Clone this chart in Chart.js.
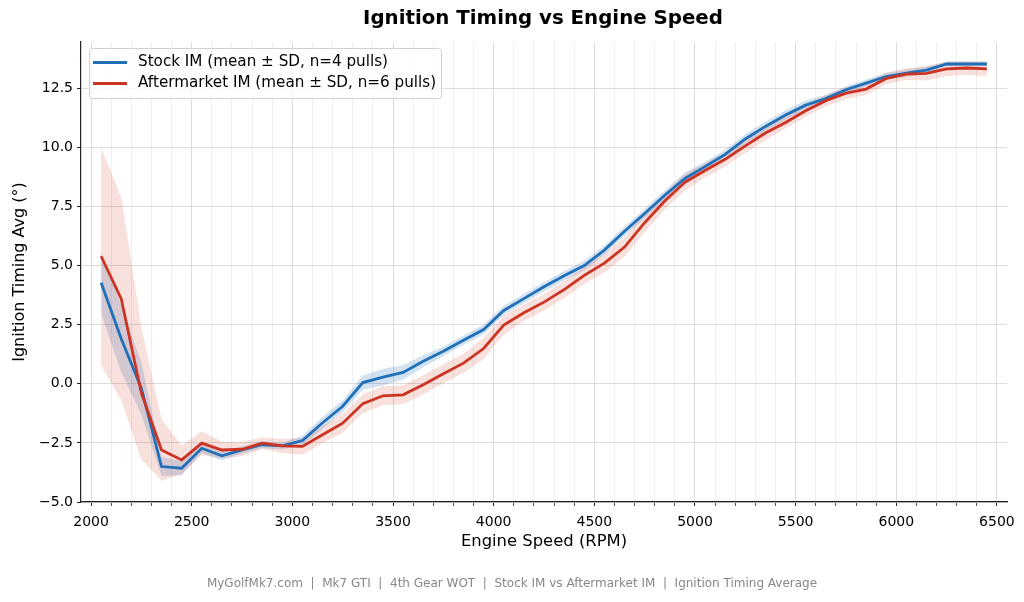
<!DOCTYPE html>
<html>
<head>
<meta charset="utf-8">
<script src="https://cdn.jsdelivr.net/npm/chart.js@4.4.0/dist/chart.umd.min.js"></script>
<style>
  html, body { margin: 0; padding: 0; background: #fff; }
  #wrap { width: 1024px; height: 602px; }
</style>
</head>
<body>
<div id="wrap"><canvas id="myChart"></canvas></div>
<script>
// engine speed bins (RPM)
const rpm = [2050, 2150, 2250, 2350, 2450, 2550, 2650, 2750, 2850, 2950,
             3050, 3150, 3250, 3350, 3450, 3550, 3650, 3750, 3850, 3950,
             4050, 4150, 4250, 4350, 4450, 4550, 4650, 4750, 4850, 4950,
             5050, 5150, 5250, 5350, 5450, 5550, 5650, 5750, 5850, 5950,
             6050, 6150, 6250, 6350, 6450];

// Stock IM, mean and SD (deg)
const stockMean = [4.27, 1.9, -0.2, -3.5, -3.57, -2.73, -3.05, -2.8, -2.58, -2.63,
                   -2.4, -1.65, -0.95, 0.05, 0.28, 0.48, 0.95, 1.37, 1.84, 2.29,
                   3.1, 3.6, 4.1, 4.57, 5.0, 5.65, 6.45, 7.2, 7.97, 8.68,
                   9.18, 9.7, 10.35, 10.88, 11.36, 11.78, 12.06, 12.43, 12.71, 12.99,
                   13.13, 13.26, 13.52, 13.52, 13.52];
const stockSd = [1.3, 1.4, 1.1, 0.4, 0.3, 0.2, 0.2, 0.15, 0.15, 0.15,
                 0.2, 0.25, 0.25, 0.3, 0.35, 0.3, 0.25, 0.2, 0.2, 0.2,
                 0.2, 0.2, 0.2, 0.2, 0.2, 0.2, 0.2, 0.2, 0.2, 0.25,
                 0.2, 0.2, 0.2, 0.2, 0.2, 0.2, 0.15, 0.15, 0.15, 0.15,
                 0.15, 0.15, 0.1, 0.1, 0.1];

// Aftermarket IM, mean and SD (deg)
const afterMean = [5.39, 3.59, -0.4, -2.8, -3.22, -2.51, -2.8, -2.77, -2.51, -2.63,
                   -2.65, -2.16, -1.67, -0.84, -0.51, -0.47, -0.04, 0.42, 0.87, 1.49,
                   2.48, 3.0, 3.45, 3.98, 4.58, 5.1, 5.78, 6.81, 7.73, 8.52,
                   9.02, 9.49, 10.06, 10.6, 11.05, 11.54, 11.97, 12.29, 12.46, 12.91,
                   13.09, 13.12, 13.31, 13.35, 13.31];
const afterSd = [4.6, 4.3, 2.8, 1.3, 0.6, 0.5, 0.35, 0.3, 0.25, 0.3,
                 0.35, 0.35, 0.4, 0.4, 0.4, 0.4, 0.4, 0.4, 0.4, 0.45,
                 0.4, 0.35, 0.35, 0.35, 0.35, 0.4, 0.4, 0.4, 0.35, 0.35,
                 0.3, 0.3, 0.3, 0.3, 0.25, 0.25, 0.25, 0.25, 0.25, 0.25,
                 0.25, 0.3, 0.3, 0.3, 0.3];

const xTicks = [2000, 2500, 3000, 3500, 4000, 4500, 5000, 5500, 6000, 6500];
const yTicks = [-5, -2.5, 0, 2.5, 5, 7.5, 10, 12.5];

const BLUE = '#1f70b8';
const RED = '#cc3322';
const FONT = "'DejaVu Sans', sans-serif";

const pts = (ys) => rpm.map((r, i) => ({ x: r, y: ys[i] }));
const band = (m, s, sign) => rpm.map((r, i) => ({ x: r, y: m[i] + sign * s[i] }));

// minor x ticks every 100 rpm between the labelled ones
const minorX = [];
for (let v = xTicks[0]; v <= xTicks[xTicks.length - 1]; v += 100) minorX.push(v);

// title, footer and a matplotlib-like legend inside the axes
const decor = {
    id: 'decor',
    afterDraw(chart) {
        const c = chart.ctx;
        c.save();
        c.fillStyle = '#000';
        c.textAlign = 'center';
        c.textBaseline = 'middle';
        c.font = "bold 19.8px " + FONT;
        c.fillText('Ignition Timing vs Engine Speed', 543, 19);

        c.fillStyle = '#888';
        c.font = "12px " + FONT;
        c.fillText('MyGolfMk7.com  |  Mk7 GTI  |  4th Gear WOT  |  Stock IM vs Aftermarket IM  |  Ignition Timing Average', 512, 584);

        // legend
        const ds = chart.data.datasets.slice(0, 2);
        const x0 = 89, y0 = 48.5, w = 352, h = 50;
        c.beginPath();
        c.roundRect(x0 + 0.5, y0, w, h, 3);
        c.fillStyle = 'rgba(255,255,255,0.8)';
        c.fill();
        c.strokeStyle = '#d0d0d0';
        c.lineWidth = 1;
        c.stroke();
        c.textAlign = 'left';
        c.font = "15.2px " + FONT;
        ds.forEach((d, i) => {
            const yy = y0 + 14 + i * 21;
            c.beginPath();
            c.moveTo(93, yy);
            c.lineTo(127, yy);
            c.strokeStyle = d.borderColor;
            c.lineWidth = 2.8;
            c.stroke();
            c.fillStyle = '#000';
            c.fillText(d.label, 138, yy);
        });
        c.restore();
    }
};

const ctx = document.getElementById('myChart').getContext('2d');
const myChart = new Chart(ctx, {
    type: 'line',
    data: {
        datasets: [{
            label: 'Stock IM (mean \u00b1 SD, n=4 pulls)',
            data: pts(stockMean),
            borderColor: BLUE,
            borderWidth: 2.8,
            pointRadius: 0,
            fill: false,
            order: 1
        }, {
            label: 'Aftermarket IM (mean \u00b1 SD, n=6 pulls)',
            data: pts(afterMean),
            borderColor: RED,
            borderWidth: 2.8,
            pointRadius: 0,
            fill: false,
            order: 0
        }, {
            label: 'stock upper',
            data: band(stockMean, stockSd, 1),
            borderWidth: 0,
            pointRadius: 0,
            backgroundColor: 'rgba(31,112,184,0.2)',
            fill: '+1',
            order: 3
        }, {
            label: 'stock lower',
            data: band(stockMean, stockSd, -1),
            borderWidth: 0,
            pointRadius: 0,
            fill: false,
            order: 3
        }, {
            label: 'after upper',
            data: band(afterMean, afterSd, 1),
            borderWidth: 0,
            pointRadius: 0,
            backgroundColor: 'rgba(214,60,40,0.16)',
            fill: '+1',
            order: 2
        }, {
            label: 'after lower',
            data: band(afterMean, afterSd, -1),
            borderWidth: 0,
            pointRadius: 0,
            fill: false,
            order: 2
        }]
    },
    options: {
        responsive: true,
        maintainAspectRatio: false,
        animation: false,
        layout: { padding: { top: 42, right: 17, bottom: 40, left: 0 } },
        plugins: {
            legend: { display: false },
            tooltip: { enabled: false }
        },
        scales: {
            x: {
                type: 'linear',
                min: 1950,
                max: 6550,
                afterFit: (s) => { s.height = 60; },
                afterBuildTicks: (s) => { s.ticks = minorX.map(v => ({ value: v })); },
                border: { display: true, color: '#222', width: 1.2 },
                grid: {
                    color: (c) => xTicks.includes(c.tick.value) ? '#dcdcdc' : '#efefef',
                    tickColor: (c) => xTicks.includes(c.tick.value) ? '#222' : '#555',
                    tickLength: 4
                },
                ticks: {
                    autoSkip: false,
                    maxRotation: 0,
                    padding: 8,
                    color: '#000',
                    font: { family: FONT, size: 14 },
                    callback: (v) => xTicks.includes(v) ? String(v) : ''
                },
                title: {
                    display: true,
                    text: 'Engine Speed (RPM)',
                    color: '#000',
                    font: { family: FONT, size: 16.4 },
                    padding: { top: 0, bottom: 10 }
                }
            },
            y: {
                min: -5,
                max: 14.45,
                afterFit: (s) => { s.width = 81; },
                afterBuildTicks: (s) => { s.ticks = yTicks.map(v => ({ value: v })); },
                border: { display: true, color: '#222', width: 1.2 },
                grid: {
                    color: '#dcdcdc',
                    tickColor: '#222',
                    tickLength: 4
                },
                ticks: {
                    padding: 4,
                    color: '#000',
                    font: { family: FONT, size: 14 },
                    callback: (v) => (v < 0 ? '\u2212' : '') + Math.abs(v).toFixed(1)
                },
                title: {
                    display: true,
                    text: 'Ignition Timing Avg (\u00b0)',
                    color: '#000',
                    font: { family: FONT, size: 16 },
                    padding: { top: 10, bottom: 0 }
                }
            }
        }
    },
    plugins: [decor]
});
</script>
</body>
</html>
